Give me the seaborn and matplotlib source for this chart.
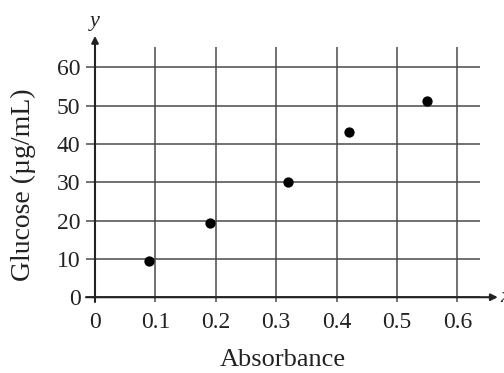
import matplotlib
matplotlib.use("Agg")
import matplotlib.pyplot as plt
import seaborn as sns
import pandas as pd

absorbance = [0.09, 0.19, 0.32, 0.42, 0.55]
glucose = [9.5, 19.4, 30.0, 43.0, 51.3]
x_ticks = [0, 0.1, 0.2, 0.3, 0.4, 0.5, 0.6]
x_tick_labels = ["0", "0.1", "0.2", "0.3", "0.4", "0.5", "0.6"]
y_ticks = [0, 10, 20, 30, 40, 50, 60]
y_tick_labels = ["0", "10", "20", "30", "40", "50", "60"]

sns.set_style("white")
plt.rcParams['font.family'] = ['Liberation Serif', 'DejaVu Serif']

fig = plt.figure(figsize=(5.04, 3.73), dpi=100)
ax = fig.add_axes([86/504, 71/373, 394/504, 255/373])

df = pd.DataFrame({"Absorbance": absorbance, "Glucose": glucose})
sns.scatterplot(data=df, x="Absorbance", y="Glucose", ax=ax, color="black",
                s=55, edgecolor="black", linewidth=0, zorder=5, clip_on=False)

ax.set_xlim(-0.0149, 0.6375)
ax.set_ylim(-1.25, 65.3)
ax.set_xticks(x_ticks)
ax.set_xticklabels(x_tick_labels)
ax.set_yticks(y_ticks)
ax.set_yticklabels(y_tick_labels)
ax.tick_params(axis='both', length=0, labelsize=17, colors='#222222')
ax.tick_params(axis='x', pad=7)
ax.tick_params(axis='y', pad=4)
for s in ax.spines.values():
    s.set_visible(False)
ax.grid(True, color='#4a4a4a', linewidth=1.1)
ax.set_axisbelow(True)

# axis arrows
ax.annotate('', xy=(0.667, 0), xytext=(-0.0149, 0), xycoords='data',
            arrowprops=dict(arrowstyle='-|>', color='#222222', lw=1.5,
                            mutation_scale=10, shrinkA=0, shrinkB=0),
            annotation_clip=False)
ax.annotate('', xy=(0, 68.2), xytext=(0, -1.25), xycoords='data',
            arrowprops=dict(arrowstyle='-|>', color='#222222', lw=1.5,
                            mutation_scale=10, shrinkA=0, shrinkB=0),
            annotation_clip=False)
ax.text(0.0, 69.5, 'y', style='italic', fontsize=16, ha='center', va='bottom',
        color='#222222')
ax.text(0.671, 0, 'x', style='italic', fontsize=16, ha='left', va='center',
        color='#222222', clip_on=False)

ax.set_xlabel("Absorbance", fontsize=19, color='#222222', labelpad=12)
ax.set_ylabel("Glucose (µg/mL)", fontsize=20, color='#222222')
ax.yaxis.set_label_coords(-0.127, 0.46)

fig.savefig("out.png", dpi=100)
